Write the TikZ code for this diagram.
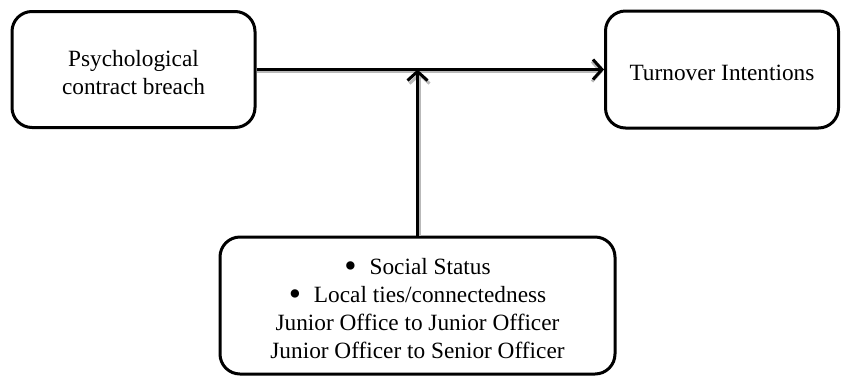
\documentclass[tikz,border=0pt]{standalone}
\usepackage{fontspec}
\setmainfont{Liberation Serif}
\usepackage{tikz}
\usetikzlibrary{arrows.meta,positioning,calc}
\newcommand{\itemdot}{\raisebox{-2.5pt}{\scalebox{1.5}{\textbullet}}\hspace{13pt}}
\newcommand{\topstrut}{\rule{0pt}{23pt}}

\begin{document}
\begin{tikzpicture}[x=1pt, y=-1pt, >={Straight Barb[length=9pt,width=20pt]},
    box/.style={draw, line width=3pt, rounded corners=20pt, align=center,
        inner sep=0pt, font=\fontsize{23.3}{28}\selectfont},
    link/.style={->, line width=3pt},
    shade/.style={->, line width=3pt, gray!55}]
    \useasboundingbox (0,0) rectangle (841,376);

    \node[box, minimum width=243pt, minimum height=116pt] (breach) at (133.5,69.5)
        {\topstrut Psychological\\contract breach};
    \node[box, minimum width=233pt, minimum height=117pt] (turnover) at (722,69.5)
        {\topstrut Turnover Intentions};
    \node[box, minimum width=395pt, minimum height=137pt] (status) at (417.5,305.5)
        {\topstrut\itemdot Social Status\\
         \itemdot Local ties/connectedness\\
         Junior Office to Junior Officer\\
         Junior Officer to Senior Officer};

    \coordinate (join) at ($(status.north)!1!(status.north |- breach.east)$);

    % shadow under the connectors
    \draw[shade] ($(breach.east)+(0,2)$) -- ($(turnover.west)+(-1,2)$);
    \draw[shade] ($(status.north)+(2,0)$) -- ($(join)+(2,3)$);

    \draw[link] (breach.east) -- (turnover.west);
    \draw[link] (status.north) -- (join);
\end{tikzpicture}
\end{document}
